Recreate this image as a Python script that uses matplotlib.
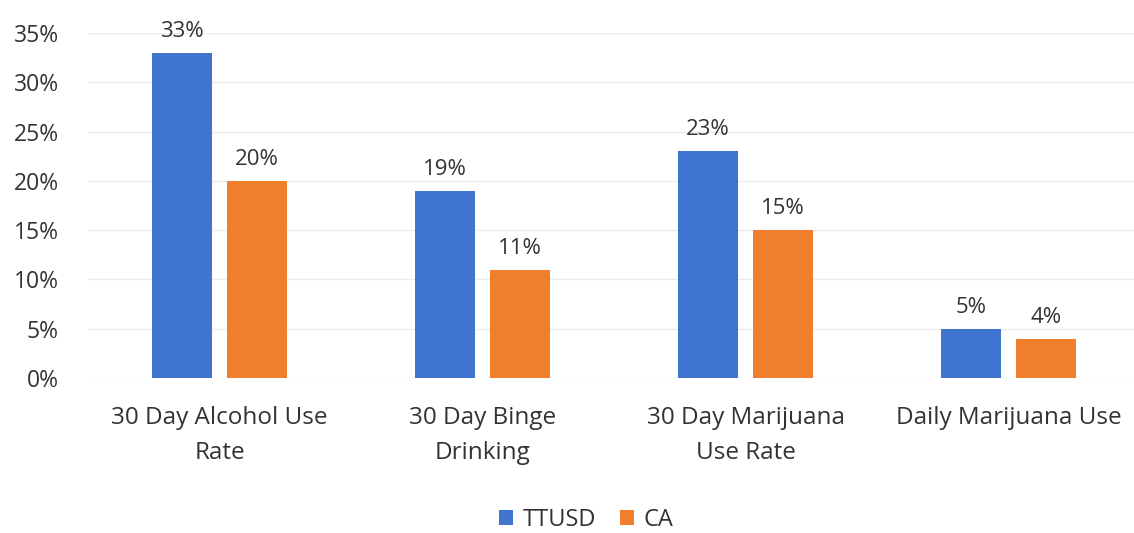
import matplotlib
matplotlib.use("Agg")
import matplotlib.pyplot as plt
import numpy as np

categories = ["30 Day Alcohol Use\nRate", "30 Day Binge\nDrinking", "30 Day Marijuana\nUse Rate", "Daily Marijuana Use"]
ttusd = [33, 19, 23, 5]
ca = [20, 11, 15, 4]
series_names = ["TTUSD", "CA"]
yticks = [0, 5, 10, 15, 20, 25, 30, 35]

plt.rcParams['font.family'] = ['Open Sans', 'DejaVu Sans']
fig = plt.figure(figsize=(11.34, 5.33), dpi=100)
ax = fig.add_axes([88/1134, 155/533, (1134-88)/1134, 345/533])

x = np.arange(len(categories))
w = 0.228
off = 0.1426
blue = "#3f74cf"
orange = "#ef7f2c"
b1 = ax.bar(x - off, ttusd, w, color=blue, label=series_names[0], zorder=3)
b2 = ax.bar(x + off, ca, w, color=orange, label=series_names[1], zorder=3)

for bars, vals in ((b1, ttusd), (b2, ca)):
    for r, v in zip(bars, vals):
        ax.text(r.get_x() + r.get_width()/2, v + 1.1, f"{v}%", ha="center", va="bottom",
                fontsize=16, color="#333333")

ax.set_xlim(-0.5, 3.477)
ax.set_ylim(0, 35)
ax.set_yticks(yticks)
ax.set_yticklabels([f"{t}%" for t in yticks])
ax.set_xticks(x)
ax.set_xticklabels(categories, linespacing=1.62)
ax.tick_params(axis="y", length=0, labelsize=16.5, colors="#333333", pad=21)
ax.tick_params(axis="x", length=0, labelsize=17.5, colors="#333333", pad=20)
ax.grid(axis="y", color="#ececec", linewidth=1, zorder=0)
for s in ax.spines.values():
    s.set_visible(False)

fig.legend(handles=[b1, b2], labels=series_names, loc="center", bbox_to_anchor=(586/1134, 1 - 520/533),
           ncol=2, frameon=False, fontsize=17, handlelength=0.6, handleheight=0.6,
           handletextpad=0.4, columnspacing=1.0, labelcolor="#333333")

fig.savefig("out.png", dpi=100)
